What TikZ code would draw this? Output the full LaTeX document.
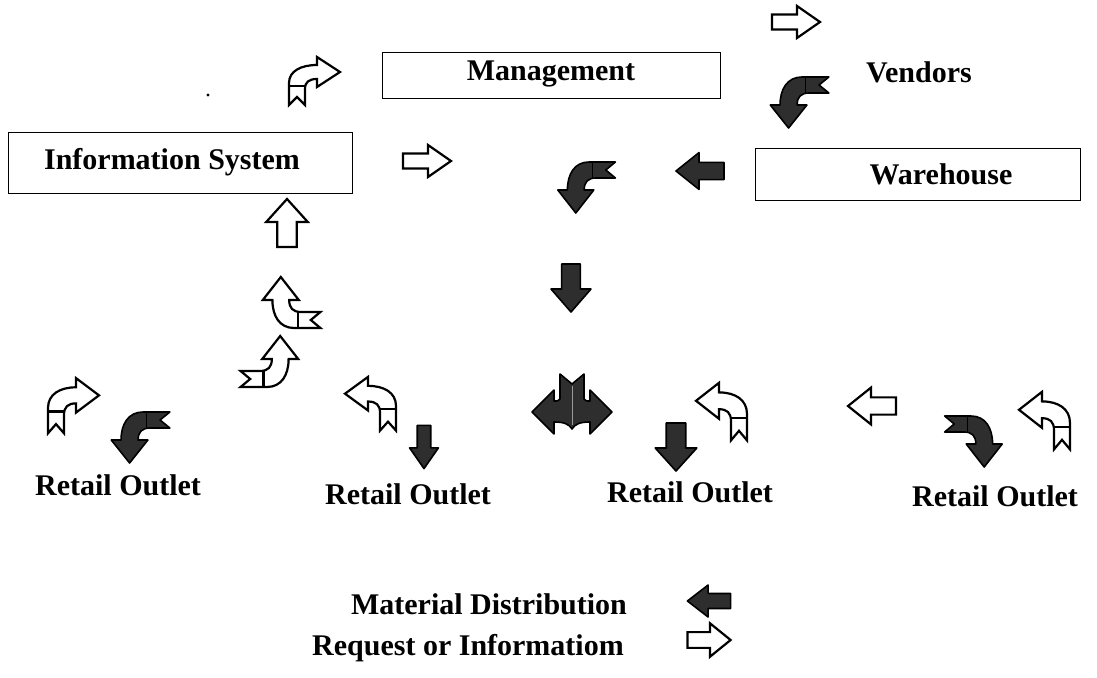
\documentclass[tikz,border=0pt]{standalone}
\usepackage{fontspec}
\setmainfont{Liberation Serif}
\newcommand\wtxt[1]{\scalebox{1.0}[1]{#1}}
\tikzset{
  lbl/.style={font=\fontsize{30}{36}\selectfont\bfseries, inner sep=0pt},
  boxed/.style={draw=black, line width=0.9pt, inner sep=0pt},
  openarr/.style={draw=black, line width=2.2pt, fill=white, line join=miter, miter limit=4},
  solidarr/.style={draw=black, line width=1.6pt, fill=black!82, line join=round},
  straight/.pic={\path[#1] (-24,-7.5) -- (1,-7.5) -- (1,-16) -- (24,0) -- (1,16) -- (1,7.5) -- (-24,7.5) -- cycle;},
  ribbon/.pic={\path[#1] (-24,22) -- (-24,0) .. controls (-24,-12) and (-12,-18) .. (4,-18) -- (4,-26) -- (27,-11) -- (4,4) -- (4,-4) .. controls (-4,-4) and (-8,-1) .. (-8,6) -- (-8,22) -- (-16,14) -- cycle;
    \path[#1, fill=none] (-24,3) -- (-8,3);},
  branch/.pic={\path[#1] (-12,-33) -- (0,-23) -- (12,-33) -- (12,-8) .. controls (14,-6) .. (18,-6) -- (18,-17) -- (40,5) -- (18,27) -- (18,15) .. controls (8,15) and (3,17) .. (0,22) .. controls (-3,17) and (-8,15) .. (-18,15) -- (-18,27) -- (-40,5) -- (-18,-17) -- (-18,-6) .. controls (-14,-6) .. (-12,-8) -- cycle;
    \path[draw=white!60!black, line width=0.8pt] (0,-21) -- (0,18);},
}
\begin{document}
\begin{tikzpicture}[x=1pt, y=-1pt]
\useasboundingbox[fill=white] (0,0) rectangle (1097,677);

% boxes
\node[boxed, minimum width=338pt, minimum height=46pt] (mgmtbox) at (551,75) {};
\node[lbl] (mgmt) at (551,74) {\wtxt{Management}};
\node[boxed, minimum width=344pt, minimum height=61pt] (isbox) at (180,162.5) {};
\node[lbl] (is) at (172,162) {\wtxt{Information System}};
\node[boxed, minimum width=325pt, minimum height=52pt] (whbox) at (917.5,174) {};
\node[lbl] (wh) at (941,174) {\wtxt{Warehouse}};

% texts
\node[lbl] (vend) at (919,72) {\wtxt{Vendors}};
\node[lbl] (ro1) at (118,485) {\wtxt{Retail Outlet}};
\node[lbl] (ro2) at (408,494) {\wtxt{Retail Outlet}};
\node[lbl] (ro3) at (690,492) {\wtxt{Retail Outlet}};
\node[lbl] (ro4) at (995,496) {\wtxt{Retail Outlet}};
\node[lbl] (md) at (489,604) {\wtxt{Material Distribution}};
\node[lbl] (ri) at (468,648) {\wtxt{Request or Informatiom}};

% open ribbon arrows
\pic[yscale=1.0] at (313,83) {ribbon=openarr};
\pic[yscale=1.15] at (72,408) {ribbon=openarr};
\pic[xscale=-1, yscale=1.12] at (372,406) {ribbon=openarr};
\pic[xscale=-1, yscale=1.2] at (723,414) {ribbon=openarr};
\pic[xscale=-1, yscale=1.2] at (1046,423) {ribbon=openarr};
\pic[rotate=90, yscale=1.2] at (294,304) {ribbon=openarr};
\pic[rotate=-90, xscale=-1, yscale=1.2] at (267,363) {ribbon=openarr};

% filled curved arrows
\pic[xscale=-1, rotate=-90, yscale=1.22] at (802,101) {ribbon=solidarr};
\pic[xscale=-1, rotate=-90, yscale=1.2] at (589,186) {ribbon=solidarr};
\pic[xscale=-1, rotate=-90, yscale=1.22] at (143,436) {ribbon=solidarr};
\pic[rotate=-90, yscale=1.2] at (971,440) {ribbon=solidarr};

% open straight arrows
\pic at (796,22) {straight=openarr};
\pic at (427,161) {straight=openarr};
\pic[rotate=90, yscale=1.3] at (287,223) {straight=openarr};
\pic[rotate=180, yscale=1.15] at (872,406) {straight=openarr};
\pic[xscale=0.9, yscale=1.05] at (709,640) {straight=openarr};

% filled straight arrows
\pic[rotate=180, yscale=1.15] at (700,171) {straight=solidarr};
\pic[rotate=-90, yscale=1.25] at (571,288) {straight=solidarr};
\pic[rotate=-90, scale=0.9] at (424,447) {straight=solidarr};
\pic[rotate=-90, yscale=1.3] at (676,447) {straight=solidarr};
\pic[rotate=180, xscale=0.9] at (709,601) {straight=solidarr};

% split arrow
\pic at (572,407) {branch=solidarr};

% specks
\fill (208,95) circle (1.6);
\end{tikzpicture}
\end{document}
